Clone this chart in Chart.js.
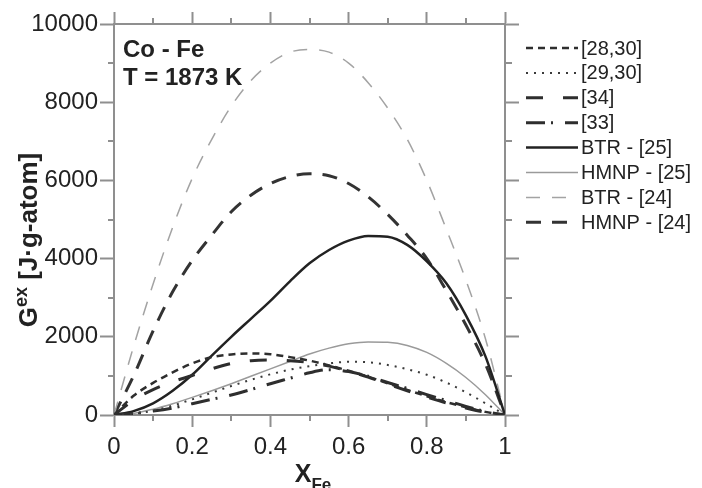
<!DOCTYPE html>
<html>
<head>
<meta charset="utf-8">
<script src="https://cdn.jsdelivr.net/npm/chart.js@4"></script>
<style>
  body { margin: 0; background: #fff; }
</style>
</head>
<body>
<canvas id="grafico" width="702" height="488"></canvas>
<script>
// composition grid shared by all curves
const xFe = [0, 0.05, 0.1, 0.15, 0.2, 0.25, 0.3, 0.35, 0.4, 0.45, 0.5,
             0.55, 0.6, 0.65, 0.7, 0.75, 0.8, 0.85, 0.9, 0.95, 1];

// Gex values, J/g-atom
const ref2830 = [0, 490, 820, 1090, 1320, 1480, 1550, 1575, 1555, 1480, 1390,
                 1270, 1130, 980, 810, 640, 480, 330, 200, 80, 0];
const ref2930 = [0, 30, 110, 240, 400, 570, 740, 900, 1040, 1160, 1250,
                 1320, 1360, 1350, 1280, 1170, 1030, 830, 580, 300, 0];
const ref34   = [0, 380, 650, 850, 1010, 1180, 1320, 1390, 1410, 1390, 1340,
                 1250, 1120, 970, 790, 620, 460, 310, 180, 70, 0];
const ref33   = [0, 40, 100, 180, 290, 400, 510, 650, 800, 940, 1080,
                 1160, 1110, 990, 830, 680, 520, 370, 220, 90, 0];
const btr25   = [0, 100, 300, 620, 1030, 1520, 2000, 2460, 2920, 3420, 3880,
                 4220, 4460, 4580, 4560, 4350, 3930, 3370, 2550, 1500, 0];
const hmnp25  = [0, 40, 150, 290, 450, 620, 800, 990, 1180, 1370, 1560,
                 1710, 1820, 1870, 1860, 1780, 1600, 1320, 960, 520, 0];
const btr24   = [0, 1750, 3350, 4800, 6050, 7050, 7900, 8550, 9000, 9280, 9350,
                 9280, 9000, 8500, 7850, 7050, 6000, 4750, 3450, 1950, 0];
const hmnp24  = [0, 1000, 2150, 3150, 3950, 4600, 5200, 5620, 5920, 6100, 6170,
                 6120, 5920, 5580, 5130, 4600, 4000, 3180, 2300, 1300, 0];

const yTicks = [0, 2000, 4000, 6000, 8000, 10000];

const FONT = '"Liberation Sans", Arial, sans-serif';
const AXIS = '#8f8f8f';

const pts = (arr) => xFe.map((x, i) => ({ x: x, y: arr[i] }));

function serie(label, arr, color, width, dash) {
    return {
        label: label,
        data: pts(arr),
        borderColor: color,
        borderWidth: width,
        borderDash: dash,
        pointRadius: 0,
        fill: false,
        cubicInterpolationMode: 'monotone'
    };
}

// minor ticks + axis titles + legend + annotation
const extras = {
    id: 'extras',
    afterDraw(chart) {
        const c = chart.ctx;
        const a = chart.chartArea;
        const sx = chart.scales.x, sy = chart.scales.y;

        c.save();
        c.strokeStyle = AXIS;
        c.lineWidth = 2;
        c.setLineDash([]);
        c.beginPath();
        for (let v = 0.1; v < 1; v += 0.2) {
            const px = Math.round(sx.getPixelForValue(v));
            c.moveTo(px, a.bottom); c.lineTo(px, a.bottom + 6);
            c.moveTo(px, a.top); c.lineTo(px, a.top - 6);
        }
        for (let v = 1000; v < 10000; v += 2000) {
            const py = Math.round(sy.getPixelForValue(v));
            c.moveTo(a.left, py); c.lineTo(a.left - 6, py);
            c.moveTo(a.right, py); c.lineTo(a.right + 7, py);
        }
        c.stroke();

        c.fillStyle = '#222';
        c.textBaseline = 'alphabetic';

        // text inside plot
        c.font = 'bold 24px ' + FONT;
        c.textAlign = 'left';
        c.fillText('Co - Fe', 123, 57);
        c.fillText('T = 1873 K', 123, 85);

        // x title with subscript
        let big = 'bold 25px ' + FONT, small = 'bold 17px ' + FONT;
        c.font = big; const wX = c.measureText('X').width;
        c.font = small; const wFe = c.measureText('Fe').width;
        let x0 = 313 - (wX + wFe) / 2;
        c.font = big; c.fillText('X', x0, 482);
        c.font = small; c.fillText('Fe', x0 + wX, 490);

        // y title with superscript
        big = 'bold 26px ' + FONT; small = 'bold 18px ' + FONT;
        c.translate(37, 240);
        c.rotate(-Math.PI / 2);
        const parts = [['G', big, 0], ['ex', small, -10], [' [J\u00b7g-atom]', big, 0]];
        let tot = 0;
        parts.forEach(p => { c.font = p[1]; p.push(c.measureText(p[0]).width); tot += p[3]; });
        let tx = -tot / 2;
        parts.forEach(p => { c.font = p[1]; c.fillText(p[0], tx, p[2]); tx += p[3]; });
        c.restore();

        // legend
        c.save();
        c.font = '20px ' + FONT;
        c.textBaseline = 'middle';
        c.textAlign = 'left';
        chart.data.datasets.forEach((ds, i) => {
            const y = 48 + i * 24.9;
            c.strokeStyle = ds.borderColor;
            c.lineWidth = ds.borderWidth;
            c.setLineDash(ds.borderDash || []);
            c.beginPath();
            c.moveTo(526, y); c.lineTo(578, y);
            c.stroke();
            c.fillStyle = '#222';
            c.fillText(ds.label, 581, y + 1);
        });
        c.restore();
    }
};

new Chart(document.getElementById('grafico'), {
    type: 'line',
    data: {
        datasets: [
            serie('[28,30]', ref2830, '#2e2e2e', 2.5, [7, 5]),
            serie('[29,30]', ref2930, '#3a3a3a', 2, [2, 6]),
            serie('[34]', ref34, '#2e2e2e', 3, [17, 20]),
            serie('[33]', ref33, '#2e2e2e', 3, [19, 6, 2, 12]),
            serie('BTR - [25]', btr25, '#222222', 2.5, []),
            serie('HMNP - [25]', hmnp25, '#9a9a9a', 1.5, []),
            serie('BTR - [24]', btr24, '#a3a3a3', 1.5, [14, 12]),
            serie('HMNP - [24]', hmnp24, '#333333', 3, [15, 11])
        ]
    },
    options: {
        responsive: false,
        animation: false,
        layout: { padding: 0 },
        plugins: {
            legend: { display: false },
            tooltip: { enabled: false }
        },
        scales: {
            x: {
                type: 'linear', position: 'bottom', min: 0, max: 1,
                afterFit: (s) => { s.height = 73; },
                ticks: {
                    stepSize: 0.2, padding: 6, color: '#222',
                    font: { family: FONT, size: 24 },
                    callback: (v) => String(Math.round(v * 10) / 10)
                },
                grid: { drawOnChartArea: false, tickLength: 12, tickColor: AXIS, tickWidth: 2 },
                border: { color: AXIS, width: 2 }
            },
            xTop: {
                type: 'linear', position: 'top', min: 0, max: 1,
                afterFit: (s) => { s.height = 24; },
                ticks: { stepSize: 0.2, display: false },
                grid: { drawOnChartArea: false, tickLength: 12, tickColor: AXIS, tickWidth: 2 },
                border: { color: AXIS, width: 2 }
            },
            y: {
                type: 'linear', position: 'left', min: 0, max: 10000,
                afterFit: (s) => { s.width = 114; },
                afterBuildTicks: (s) => { s.ticks = yTicks.map(v => ({ value: v })); },
                ticks: {
                    padding: 2, color: '#222',
                    font: { family: FONT, size: 24 },
                    callback: (v) => String(v)
                },
                grid: { drawOnChartArea: false, tickLength: 14, tickColor: AXIS, tickWidth: 2 },
                border: { color: AXIS, width: 2 }
            },
            yRight: {
                type: 'linear', position: 'right', min: 0, max: 10000,
                afterFit: (s) => { s.width = 197; },
                afterBuildTicks: (s) => { s.ticks = yTicks.map(v => ({ value: v })); },
                ticks: { display: false },
                grid: { drawOnChartArea: false, tickLength: 14, tickColor: AXIS, tickWidth: 2 },
                border: { color: AXIS, width: 2 }
            }
        }
    },
    plugins: [extras]
});
</script>
</body>
</html>
